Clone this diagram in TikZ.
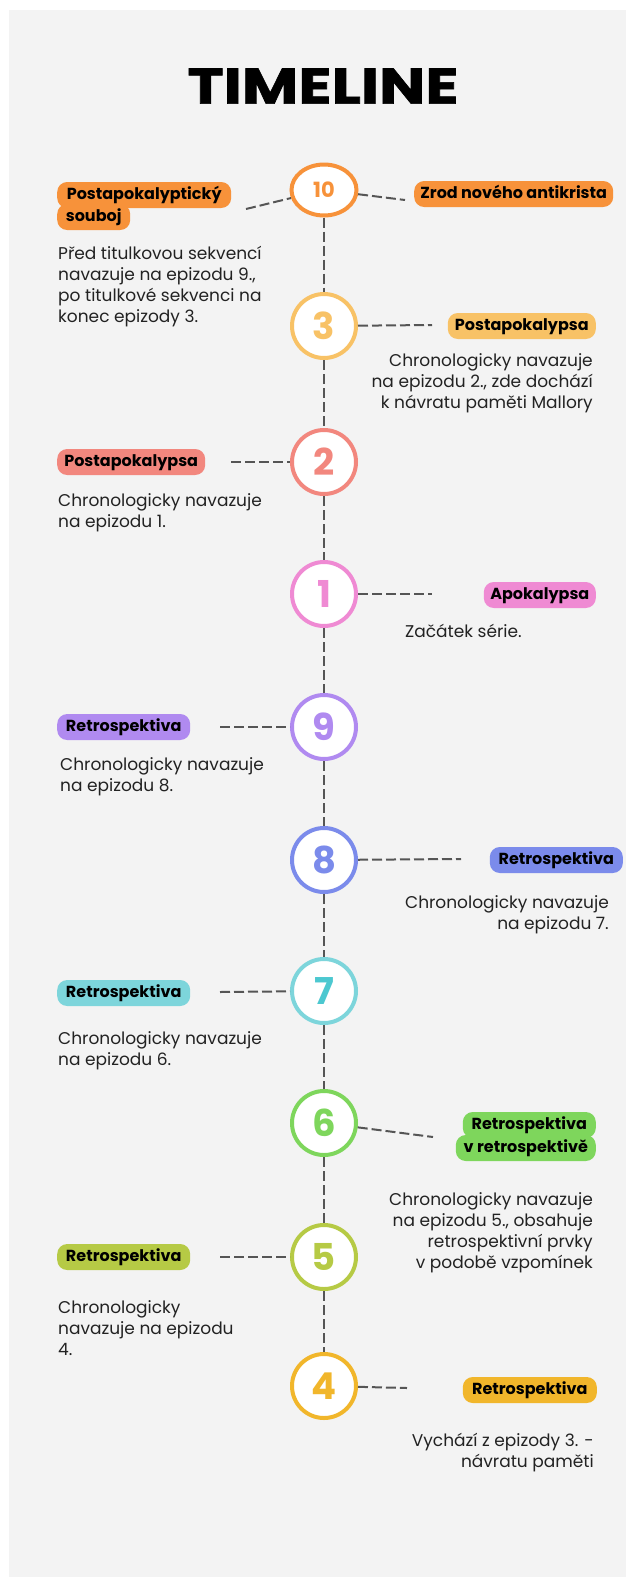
\documentclass[tikz,border=0pt]{standalone}
\usepackage{fontspec}
\setmainfont{Poppins}
\newfontfamily\titlefont[BoldFeatures={FakeBold=1.2}]{Poppins}
\usetikzlibrary{shapes.geometric}
\definecolor{panel}{HTML}{F3F3F3}
\definecolor{dgray}{HTML}{555555}
\definecolor{txt}{HTML}{222222}
\definecolor{cA}{HTML}{F7923A}
\definecolor{cB}{HTML}{F8C266}
\definecolor{cC}{HTML}{F2877E}
\definecolor{cD}{HTML}{EF8AD3}
\definecolor{cE}{HTML}{B08AF0}
\definecolor{cF}{HTML}{7B8BEB}
\definecolor{cG}{HTML}{7DD5DB}
\definecolor{cGd}{HTML}{4CC8D0}
\definecolor{cH}{HTML}{7ED65C}
\definecolor{cI}{HTML}{B6CA45}
\definecolor{cJ}{HTML}{F1B62B}
\begin{document}
\begin{tikzpicture}[x=1pt,y=-1pt,
  num/.style={circle, draw=#1, line width=4pt, fill=white, minimum size=64pt, inner sep=0pt, text=#1, font=\fontsize{37}{37}\selectfont\bfseries},
  lbl/.style={fill=#1, rounded corners=10pt, minimum height=26pt, inner xsep=6pt, inner ysep=0pt, text height=11.5pt, text depth=3pt, font=\fontsize{16}{16}\selectfont\bfseries, text=black},
  desc/.style={font=\fontsize{17}{21}\selectfont, text=txt, inner sep=0pt},
  conn/.style={draw=dgray, line width=2pt, dash pattern=on 10pt off 4pt},
  vline/.style={draw=dgray, line width=2pt, dash pattern=on 10pt off 4pt}]
\useasboundingbox (0,0) rectangle (627,1577);
\fill[white] (0,0) rectangle (627,1577);
\fill[panel] (9,10) rectangle (626,1577);

\node[font=\fontsize{50}{50}\titlefont\bfseries] (title) at (323,86) {\scalebox{1.23}[1]{TIMELINE}};

% circles
\node[ellipse, draw=cA, line width=4pt, fill=white, minimum width=65pt, minimum height=51pt, inner sep=0pt, text=cA, font=\fontsize{21}{21}\selectfont\bfseries] (n10) at (324,190) {10};
\node[num=cB] (n3) at (324,326) {3};
\node[num=cC] (n2) at (324,462) {2};
\node[num=cD] (n1) at (324,594) {1};
\node[num=cE] (n9) at (324,727) {9};
\node[num=cF] (n8) at (324,860) {8};
\node[num=cG, text=cGd] (n7) at (324,991) {7};
\node[num=cH] (n6) at (324,1123) {6};
\node[num=cI] (n5) at (324,1257) {5};
\node[num=cJ] (n4) at (324,1386) {4};

% vertical timeline
\draw[vline] (n10) -- (n3);
\draw[vline] (n3) -- (n2);
\draw[vline] (n2) -- (n1);
\draw[vline] (n1) -- (n9);
\draw[vline] (n9) -- (n8);
\draw[vline] (n8) -- (n7);
\draw[vline] (n7) -- (n6);
\draw[vline] (n6) -- (n5);
\draw[vline] (n5) -- (n4);

% labels
\node[lbl=cA, anchor=west, minimum width=174pt] (l10a) at (57,195) {Postapokalyptický};
\node[lbl=cA, anchor=west, minimum width=73pt] (l10b) at (57,217) {souboj};
\node[lbl=cA, anchor=west, minimum width=199pt] (l10r) at (414,194) {Zrod nového antikrista};
\node[lbl=cB, anchor=east, minimum width=148pt] (l3) at (596,326) {Postapokalypsa};
\node[lbl=cC, anchor=west, minimum width=148pt] (l2) at (57,462) {Postapokalypsa};
\node[lbl=cD, anchor=east, minimum width=112pt] (l1) at (596,595) {Apokalypsa};
\node[lbl=cE, anchor=west, minimum width=133pt] (l9) at (57,727) {Retrospektiva};
\node[lbl=cF, anchor=east, minimum width=133pt] (l8) at (623,860) {Retrospektiva};
\node[lbl=cG, anchor=west, minimum width=133pt] (l7) at (57,993) {Retrospektiva};
\node[lbl=cH, anchor=east, minimum width=133pt] (l6a) at (596,1125) {Retrospektiva};
\node[lbl=cH, anchor=east, minimum width=140pt] (l6b) at (596,1148) {v retrospektivě};
\node[lbl=cI, anchor=west, minimum width=133pt] (l5) at (57,1257) {Retrospektiva};
\node[lbl=cJ, anchor=east, minimum width=134pt] (l4) at (597,1390) {Retrospektiva};

% connector free ends
\coordinate (e10l) at (246,209);
\coordinate (e10r) at (405,200);
\coordinate (e3) at (432,325);
\coordinate (e2) at (231,462);
\coordinate (e1) at (432,594);
\coordinate (e9) at (220,727);
\coordinate (e8) at (461,859);
\coordinate (e7) at (220,992);
\coordinate (e6) at (433,1137);
\coordinate (e5) at (220,1257);
\coordinate (e4) at (407,1388);
\draw[conn] (e10l) -- (n10);
\draw[conn] (n10) -- (e10r);
\draw[conn] (n3) -- (e3);
\draw[conn] (e2) -- (n2);
\draw[conn] (n1) -- (e1);
\draw[conn] (e9) -- (n9);
\draw[conn] (n8) -- (e8);
\draw[conn] (e7) -- (n7);
\draw[conn] (n6) -- (e6);
\draw[conn] (e5) -- (n5);
\draw[conn] (n4) -- (e4);

% descriptions (base anchor = baseline of last line)
\node[desc, align=left, anchor=base west] (d10) at (58,322) {Před titulkovou sekvencí\\navazuje na epizodu 9.,\\po titulkové sekvenci na\\konec epizody 3.};
\node[desc, align=right, anchor=base east] (d3) at (593,408) {Chronologicky navazuje\\na epizodu 2., zde dochází\\k návratu paměti Mallory};
\node[desc, align=left, anchor=base west] (d2) at (58,527) {Chronologicky navazuje\\na epizodu 1.};
\node[desc, anchor=base west] (d1) at (405,637) {Začátek série.};
\node[desc, align=left, anchor=base west] (d9) at (60,791) {Chronologicky navazuje\\na epizodu 8.};
\node[desc, align=right, anchor=base east] (d8) at (609,929) {Chronologicky navazuje\\na epizodu 7.};
\node[desc, align=left, anchor=base west] (d7) at (58,1065) {Chronologicky navazuje\\na epizodu 6.};
\node[desc, align=right, anchor=base east] (d6) at (593,1268) {Chronologicky navazuje\\na epizodu 5., obsahuje\\retrospektivní prvky\\v podobě vzpomínek};
\node[desc, align=left, anchor=base west] (d5) at (58,1355) {Chronologicky\\navazuje na epizodu\\4.};
\node[desc, align=right, anchor=base east] (d4) at (594,1467) {Vychází z epizody 3. -\\návratu paměti};
\end{tikzpicture}
\end{document}
